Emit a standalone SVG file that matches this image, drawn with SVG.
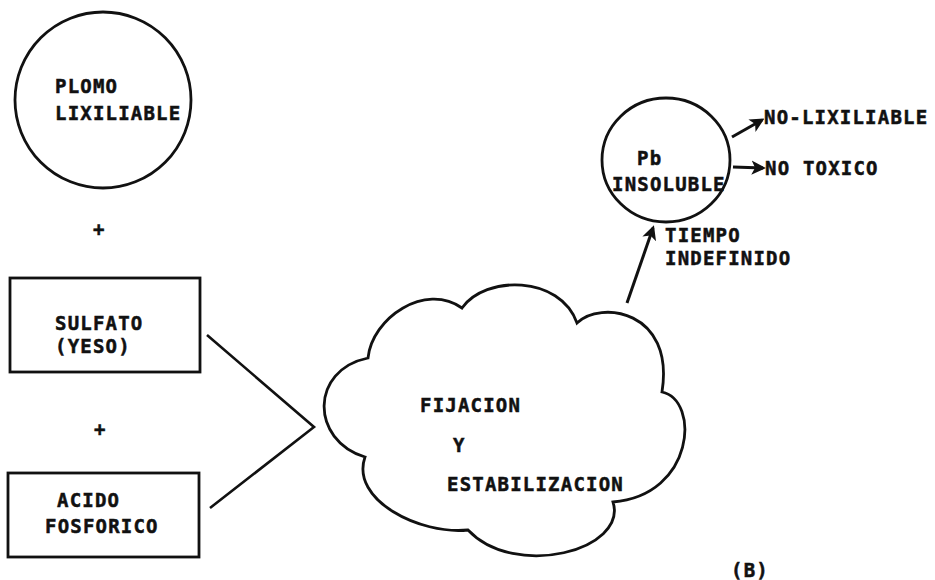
<svg xmlns="http://www.w3.org/2000/svg" width="935" height="580" viewBox="0 0 935 580">
  <style>
    .shape { fill: #ffffff; stroke: #111111; stroke-width: 2.8; }
    .line { fill: none; stroke: #111111; stroke-width: 2.6; }
    .arrow { fill: none; stroke: #111111; stroke-width: 3; marker-end: url(#head); }
    text { font-family: "DejaVu Sans Mono", "Liberation Mono", monospace; font-weight: bold; font-size: 19px; letter-spacing: 1.2px; fill: #111111; stroke: #111111; stroke-width: 0.5px; }
  </style>
  <defs>
    <marker id="head" viewBox="0 0 10 10" refX="8" refY="5" markerWidth="4.8" markerHeight="4.8" orient="auto" markerUnits="strokeWidth">
      <path d="M0,0 L10,5 L0,10 L2.5,5 Z" fill="#111111"/>
    </marker>
  </defs>
  <rect width="935" height="580" fill="#ffffff"/>

  <!-- leachable lead -->
  <g id="plomo">
    <circle class="shape" cx="103" cy="100" r="88"/>
    <text x="55" y="93">PLOMO</text>
    <text x="55" y="120">LIXILIABLE</text>
  </g>

  <g id="plus1"><text x="93" y="236">+</text></g>

  <g id="sulfato">
    <rect class="shape" x="10" y="278" width="190" height="94"/>
    <text x="55" y="330">SULFATO</text>
    <text x="55" y="353">(YESO)</text>
  </g>

  <g id="plus2"><text x="94" y="436">+</text></g>

  <g id="acido">
    <rect class="shape" x="8" y="473" width="191" height="84"/>
    <text x="57" y="507">ACIDO</text>
    <text x="45" y="533">FOSFORICO</text>
  </g>

  <!-- fixation / stabilization cloud -->
  <g id="fijacion">
    <path class="shape" d="M368,358 C372,318 425,282 462,308 C485,275 560,275 577,323 C600,300 675,310 662,392 C700,400 695,495 613,502 C628,550 515,580 468,530 C420,535 350,500 365,457 C310,440 310,370 368,358 Z"/>
    <text x="420" y="412">FIJACION</text>
    <text x="453" y="452">Y</text>
    <text x="447" y="491">ESTABILIZACION</text>
  </g>

  <!-- insoluble lead -->
  <g id="pb-insoluble">
    <ellipse class="shape" cx="666" cy="160" rx="64" ry="62"/>
    <text x="637" y="165">Pb</text>
    <text x="612" y="191">INSOLUBLE</text>
  </g>

  <g id="no-lixiliable"><text x="764" y="124">NO-LIXILIABLE</text></g>
  <g id="no-toxico"><text x="765" y="175">NO TOXICO</text></g>
  <g id="tiempo">
    <text x="665" y="242">TIEMPO</text>
    <text x="665" y="265">INDEFINIDO</text>
  </g>

  <g id="label-b"><text x="731" y="577">(B)</text></g>

  <!-- connectors -->
  <g id="connectors">
    <polyline class="line" points="207,335 314,427 210,508"/>
    <line class="arrow" x1="627" y1="303" x2="653" y2="228"/>
    <line class="arrow" x1="732" y1="137" x2="762" y2="120"/>
    <line class="arrow" x1="733" y1="167" x2="763" y2="168"/>
  </g>
</svg>
